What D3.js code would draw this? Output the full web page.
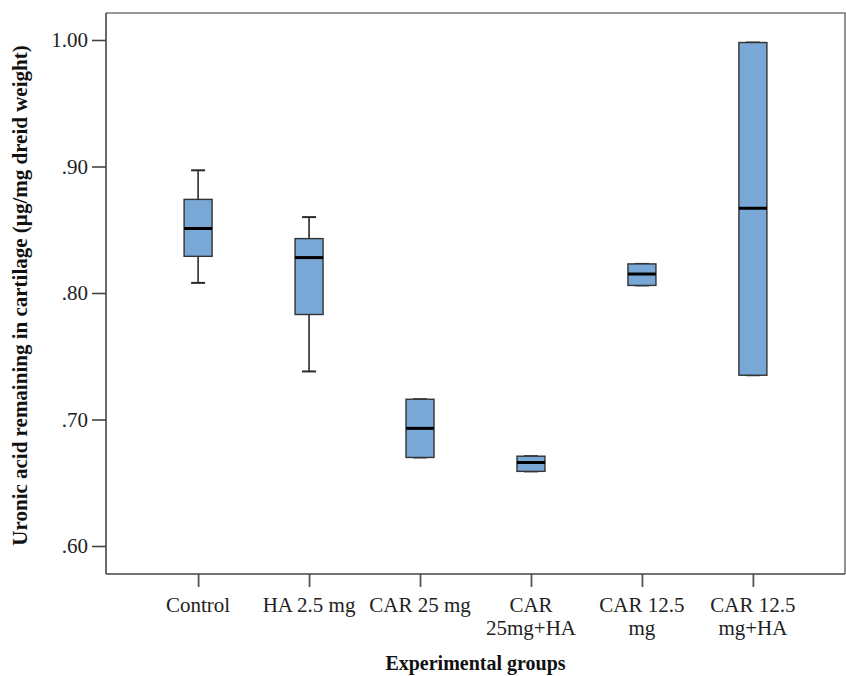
<!DOCTYPE html>
<html><head><meta charset="utf-8">
<script src="https://cdn.jsdelivr.net/npm/d3@7"></script>
<style>body{margin:0;background:#fff}svg{display:block}</style>
</head><body>
<script>
const categories = [["Control"],["HA 2.5 mg"],["CAR 25 mg"],["CAR","25mg+HA"],["CAR 12.5","mg"],["CAR 12.5","mg+HA"]];
const whiskerLow  = [0.808, 0.738, 0.670, 0.659, 0.806, 0.735];
const q1          = [0.829, 0.783, 0.670, 0.659, 0.806, 0.735];
const median      = [0.851, 0.828, 0.693, 0.666, 0.815, 0.867];
const q3          = [0.874, 0.843, 0.716, 0.671, 0.823, 0.998];
const whiskerHigh = [0.897, 0.860, 0.716, 0.671, 0.823, 0.998];
const yTicks = [0.6, 0.7, 0.8, 0.9, 1.0];
const yTickLabels = [".60", ".70", ".80", ".90", "1.00"];

const W = 846, H = 676;
const pL = 106, pR = 845, pT = 13, pB = 574;
const svg = d3.select("body").append("svg").attr("width", W).attr("height", H);
const font = "'Liberation Serif','Times New Roman',serif";

const keys = categories.map((c, i) => i);
const x = d3.scalePoint().domain(keys).range([pL, pR]).padding(0.83);
const y = d3.scaleLinear().domain([0.6, 1.0]).range([546, 40]);

// frame (top & right)
svg.append("path").attr("d", `M${pL},${pT}H${pR}V${pB}`)
  .attr("fill", "none").attr("stroke", "#777").attr("stroke-width", 1.6);

// y axis
const yAxis = svg.append("g").attr("transform", `translate(${pL},0)`)
  .call(d3.axisLeft(y).tickValues(yTicks).tickFormat((d, i) => yTickLabels[i]).tickSize(14).tickPadding(4));
yAxis.select(".domain").remove();
svg.append("line").attr("x1", pL).attr("x2", pL).attr("y1", pT).attr("y2", pB)
  .attr("stroke", "#444").attr("stroke-width", 1.6);
yAxis.selectAll(".tick line").attr("stroke", "#444").attr("stroke-width", 1.6);
yAxis.selectAll(".tick text").attr("font-family", font).attr("font-size", 21).attr("fill", "#222");

// x axis
const xAxis = svg.append("g").attr("transform", `translate(0,${pB})`)
  .call(d3.axisBottom(x).tickSize(13).tickFormat(""));
xAxis.select(".domain").remove();
svg.append("line").attr("x1", pL).attr("x2", pR).attr("y1", pB).attr("y2", pB)
  .attr("stroke", "#444").attr("stroke-width", 1.6);
xAxis.selectAll(".tick line").attr("stroke", "#555").attr("stroke-width", 1.8);

// category labels
const lab = svg.append("g");
categories.forEach((lines, i) => {
  const t = lab.append("text").attr("x", x(i)).attr("y", 612)
    .attr("text-anchor", "middle").attr("font-family", font).attr("font-size", 21).attr("fill", "#222");
  lines.forEach((l, j) => t.append("tspan").attr("x", x(i)).attr("dy", j === 0 ? 0 : 23).text(l));
});

// boxes
const bw = 28, cw = 14;
const g = svg.append("g");
keys.forEach(i => {
  const cx = x(i);
  const st = "#2a2a2a";
  g.append("line").attr("x1", cx).attr("x2", cx).attr("y1", y(whiskerHigh[i])).attr("y2", y(q3[i])).attr("stroke", st).attr("stroke-width", 1.6);
  g.append("line").attr("x1", cx).attr("x2", cx).attr("y1", y(q1[i])).attr("y2", y(whiskerLow[i])).attr("stroke", st).attr("stroke-width", 1.6);
  g.append("line").attr("x1", cx - cw/2).attr("x2", cx + cw/2).attr("y1", y(whiskerHigh[i])).attr("y2", y(whiskerHigh[i])).attr("stroke", st).attr("stroke-width", 2);
  g.append("line").attr("x1", cx - cw/2).attr("x2", cx + cw/2).attr("y1", y(whiskerLow[i])).attr("y2", y(whiskerLow[i])).attr("stroke", st).attr("stroke-width", 2);
  g.append("rect").attr("x", cx - bw/2).attr("width", bw).attr("y", y(q3[i])).attr("height", y(q1[i]) - y(q3[i]))
    .attr("fill", "#79a8d7").attr("stroke", "#333").attr("stroke-width", 1.4);
  g.append("line").attr("x1", cx - bw/2).attr("x2", cx + bw/2).attr("y1", y(median[i])).attr("y2", y(median[i])).attr("stroke", "#000").attr("stroke-width", 3);
});

// axis titles
svg.append("text").attr("x", (pL + pR) / 2).attr("y", 670).attr("text-anchor", "middle")
  .attr("font-family", font).attr("font-weight", "bold").attr("font-size", 20).attr("fill", "#111")
  .text("Experimental groups");
svg.append("text").attr("transform", `translate(27,${(pT + pB) / 2 + 2}) rotate(-90)`).attr("text-anchor", "middle")
  .attr("font-family", font).attr("font-weight", "bold").attr("font-size", 21).attr("fill", "#111")
  .text("Uronic acid remaining in cartilage (µg/mg dreid weight)");
</script>
</body></html>
